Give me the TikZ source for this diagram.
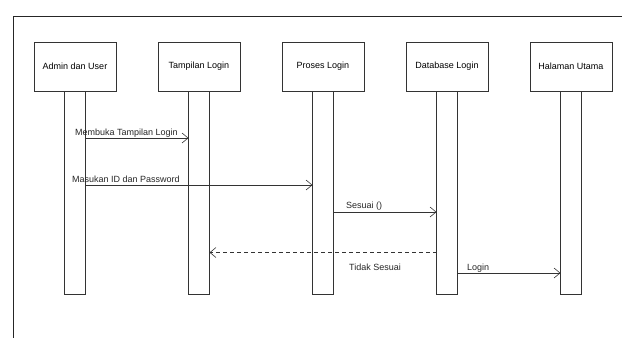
\documentclass[tikz,border=0pt]{standalone}
\usepackage{fontspec}
\setmainfont{Liberation Sans}
\usetikzlibrary{arrows.meta,positioning}

\begin{document}
\begin{tikzpicture}[x=1pt,y=-1pt,
  objek/.style={draw=black!80,line width=0.7pt,minimum width=82pt,minimum height=49pt,inner sep=0pt,outer sep=0pt,font=\fontsize{9}{10}\selectfont},
  aktivasi/.style={draw=black!80,line width=0.7pt,minimum width=21pt,minimum height=203pt,inner sep=0pt,outer sep=0pt},
  pesan/.style={draw=black!80,line width=0.6pt,-{Straight Barb[length=6pt,width=10pt]}},
  balas/.style={pesan,dash pattern=on 4pt off 3pt},
  ket/.style={anchor=base west,inner sep=0pt,font=\fontsize{9}{10}\selectfont,text=black!85}]
  \useasboundingbox (0,0) rectangle (622,338);
  % bingkai
  \draw[black!85,line width=0.8pt] (622,16) -- (13,16) -- (13,338);
  % objek
  \node[objek] (admin) at (75,66.5) {Admin dan User};
  \node[objek,right=42pt of admin] (tampilan) {Tampilan Login};
  \node[objek,right=42pt of tampilan] (proses) {Proses Login};
  \node[objek,right=42pt of proses] (database) {Database Login};
  \node[objek,right=42pt of database] (halaman) {Halaman Utama};
  % batang aktivasi
  \foreach \o in {admin,tampilan,proses,database,halaman}
    \node[aktivasi,below=0pt of \o] (akt-\o) {};
  % baris pesan
  \coordinate (m1) at (0,138);
  \coordinate (m2) at (0,185);
  \coordinate (m3) at (0,212);
  \coordinate (m4) at (0,252.5);
  \coordinate (m5) at (0,273);
  \draw[pesan] (akt-admin.east |- m1) -- (akt-tampilan.west |- m1);
  \node[ket] (ket1) at (75,135.5) {Membuka Tampilan Login};
  \draw[pesan] (akt-admin.east |- m2) -- (akt-proses.west |- m2);
  \node[ket] (ket2) at (72,182) {Masukan ID dan Password};
  \draw[pesan] (akt-proses.east |- m3) -- (akt-database.west |- m3);
  \node[ket] (ket3) at (346,208.5) {Sesuai ()};
  \draw[balas] (akt-database.west |- m4) -- (akt-tampilan.east |- m4);
  \node[ket] (ket4) at (349,270) {Tidak Sesuai};
  \draw[pesan] (akt-database.east |- m5) -- (akt-halaman.west |- m5);
  \node[ket] (ket5) at (467,270) {Login};
\end{tikzpicture}
\end{document}
